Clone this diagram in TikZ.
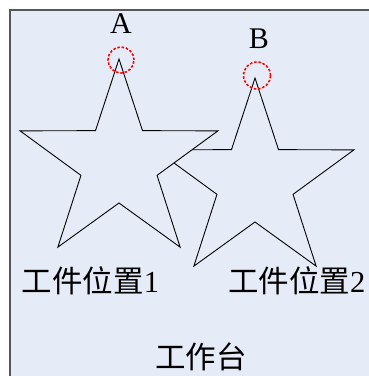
\documentclass[tikz,border=0pt]{standalone}
\usepackage{fontspec}
\setmainfont{Liberation Serif}
\newfontfamily\cjk{Noto Sans CJK SC}
\definecolor{bg}{RGB}{230,236,247}
\definecolor{frame}{RGB}{85,85,90}
\tikzset{
  starline/.style={draw=black, line width=0.9pt, fill=bg, line join=miter},
  mark circle/.style={draw=red, line width=1.6pt, dash pattern=on 2.5pt off 1.8pt},
  lbl/.style={inner sep=0pt, font=\fontsize{30}{32}\selectfont},
  cjklbl/.style={inner sep=0pt, font=\fontsize{30.5}{34}\selectfont}
}
\begin{document}
\begin{tikzpicture}[x=1pt,y=-1pt]
\useasboundingbox (0,0) rectangle (369,376);
\draw[fill=bg, draw=frame, line width=2pt] (10,10) rectangle (400,400);
% star B (behind)
\begin{scope}[shift={(255,182)}]
\draw[starline] (270:104) -- (306:40) -- (342:104) -- (18:40) -- (54:104) -- (90:40) -- (126:104) -- (162:40) -- (198:104) -- (234:40) -- cycle;
\end{scope}
% star A (front)
\begin{scope}[shift={(119,163)}]
\draw[starline] (270:104) -- (306:40) -- (342:104) -- (18:40) -- (54:104) -- (90:40) -- (126:104) -- (162:40) -- (198:104) -- (234:40) -- cycle;
\end{scope}
\draw[mark circle] (121,60) circle[radius=13pt];
\draw[mark circle] (257,75.5) circle[radius=13.5pt];
\node[lbl] (A) at (121,24) {A};
\node[lbl] (B) at (259,38.5) {B};
\node[cjklbl] (p1) at (90.5,281) {{\cjk 工件位置}1};
\node[cjklbl, anchor=west] (p2) at (228,281) {{\cjk 工件位置}2};
\node[cjklbl] (tai) at (201,357) {\cjk 工作台};
\end{tikzpicture}
\end{document}
